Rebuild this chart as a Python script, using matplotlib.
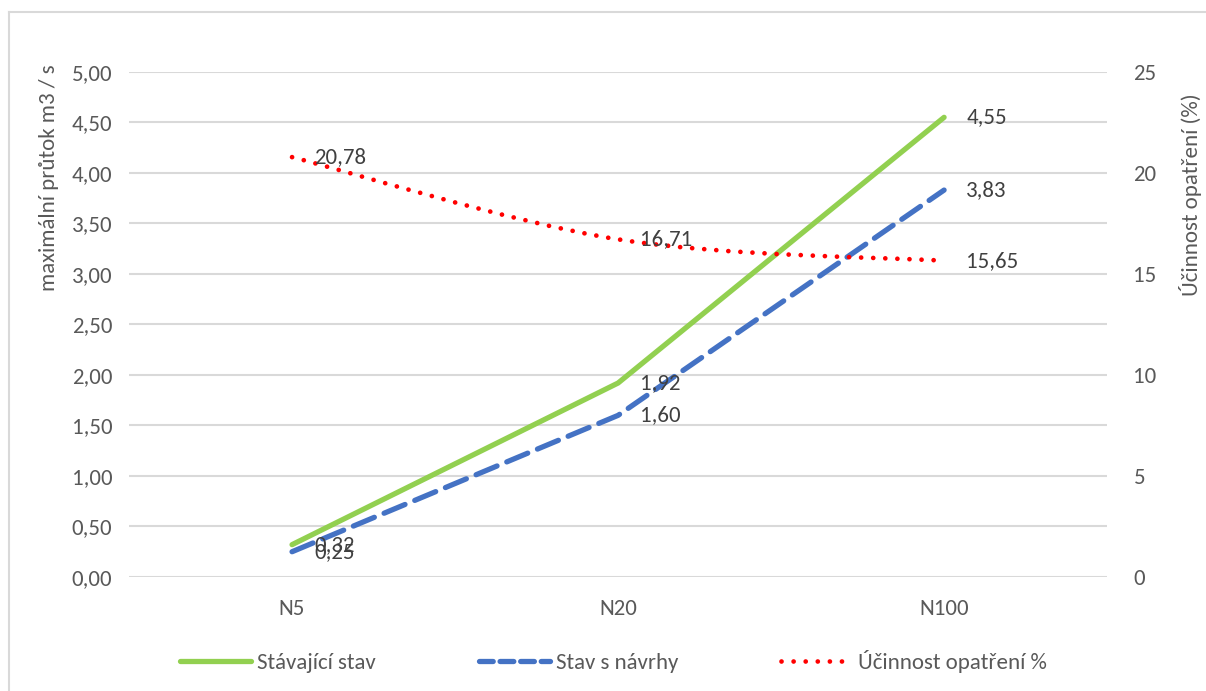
import matplotlib
matplotlib.use("Agg")
import matplotlib.pyplot as plt
from matplotlib import font_manager as fm
from matplotlib.path import Path
from matplotlib.patches import PathPatch
from matplotlib.lines import Line2D
from matplotlib.ticker import FuncFormatter

# Calibri look-alike if present, otherwise Lato at a smaller size
installed = {f.name for f in fm.fontManager.ttflist}
if 'Carlito' in installed:
    plt.rcParams['font.family'] = ['Carlito', 'DejaVu Sans']
    FS = 16.5
else:
    plt.rcParams['font.family'] = ['Lato', 'DejaVu Sans']
    FS = 14

# --- DATA ---
categories = ["N5", "N20", "N100"]
stavajici = [0.32, 1.92, 4.55]
navrhy = [0.25, 1.60, 3.83]
ucinnost = [20.78, 16.71, 15.65]

GREEN = "#92D050"
BLUE = "#4472C4"
RED = "#FF0000"
GRID = "#D9D9D9"
TXT = "#595959"
LBL = "#404040"

def comma(v, dec):
    return f"{v:.{dec}f}".replace(".", ",")

fig = plt.figure(figsize=(12.06, 6.91), dpi=100)
ax = fig.add_axes([0.107, 0.165, 0.811, 0.731])
ax2 = ax.twinx()

x = list(range(len(categories)))
ax.set_xlim(-0.5, len(categories) - 0.5)
ax.set_ylim(0, 5)
ax2.set_ylim(0, 25)
ax.set_yticks([i * 0.5 for i in range(11)])
ax2.set_yticks(range(0, 26, 5))
ax.yaxis.set_major_formatter(FuncFormatter(lambda v, p: comma(v, 2)))
ax.set_xticks(x)
ax.set_xticklabels(categories)

for a in (ax, ax2):
    for s in a.spines.values():
        s.set_visible(False)
    a.tick_params(length=0, labelsize=FS, labelcolor=TXT)
ax.tick_params(axis='y', pad=12)
ax2.tick_params(axis='y', pad=19)
ax.tick_params(axis='x', pad=16)
ax.grid(axis='y', color=GRID, lw=1.5)
ax.set_axisbelow(True)

ax.set_ylabel("maximální průtok m3 / s", fontsize=FS, color=TXT)
ax.yaxis.set_label_coords(-0.072, 0.79)
ax2.set_ylabel("Účinnost opatření (%)", fontsize=FS, color=TXT)
ax2.yaxis.set_label_coords(1.074, 0.756)

ax.plot(x, stavajici, color=GREEN, lw=3.8, solid_capstyle='round',
        solid_joinstyle='round', label="Stávající stav", zorder=3)
ax.plot(x, navrhy, color=BLUE, lw=3.8, dashes=(4.3, 2.0),
        dash_capstyle='round', label="Stav s návrhy", zorder=4)

# smoothed line (Excel style) through the data points
pts = list(zip(x, ucinnost))
verts = [pts[0]]
codes = [Path.MOVETO]
n = len(pts)
for i in range(n - 1):
    p0 = pts[i - 1] if i > 0 else pts[i]
    p1, p2 = pts[i], pts[i + 1]
    p3 = pts[i + 2] if i + 2 < n else pts[i + 1]
    c1 = (p1[0] + (p2[0] - p0[0]) / 6, p1[1] + (p2[1] - p0[1]) / 6)
    c2 = (p2[0] - (p3[0] - p1[0]) / 6, p2[1] - (p3[1] - p1[1]) / 6)
    verts += [c1, c2, p2]
    codes += [Path.CURVE4] * 3
red_line = PathPatch(Path(verts, codes), fill=False, edgecolor=RED, lw=3.4,
                     linestyle=(0, (0.01, 2.55)), capstyle='round', zorder=5)
ax2.add_patch(red_line)

# data labels
for xi, v in zip(x, stavajici):
    ax.annotate(comma(v, 2), (xi, v), xytext=(16, 0), textcoords='offset points',
                ha='left', va='center', fontsize=FS, color=LBL, zorder=6)
for xi, v in zip(x, navrhy):
    ax.annotate(comma(v, 2), (xi, v), xytext=(16, 0), textcoords='offset points',
                ha='left', va='center', fontsize=FS, color=LBL, zorder=6)
for xi, v in zip(x, ucinnost):
    ax2.annotate(comma(v, 2), (xi, v), xytext=(16, 0), textcoords='offset points',
                 ha='left', va='center', fontsize=FS, color=LBL, zorder=6)

handles = [
    Line2D([], [], color=GREEN, lw=3.8, solid_capstyle='round'),
    Line2D([], [], color=BLUE, lw=3.8, dashes=(2.6, 1.3), dash_capstyle='round'),
    Line2D([], [], color=RED, lw=3.4, linestyle=(0, (0.01, 2.55)), dash_capstyle='round'),
]
labels = ["Stávající stav", "Stav s návrhy", "Účinnost opatření %"]
fig.legend(handles, labels, loc='center left', bbox_to_anchor=(0.132, 0.042), ncol=3,
           frameon=False, fontsize=FS, labelcolor=TXT, handlelength=3.1,
           handletextpad=0.26, columnspacing=4.5)

# chart border (left and top visible)
fig.add_artist(Line2D([0.0075, 0.0075], [0, 0.983], color=GRID, lw=1.5,
                      transform=fig.transFigure))
fig.add_artist(Line2D([0.0075, 1], [0.983, 0.983], color=GRID, lw=1.5,
                      transform=fig.transFigure))

fig.savefig("out.png", dpi=100, facecolor="white")
